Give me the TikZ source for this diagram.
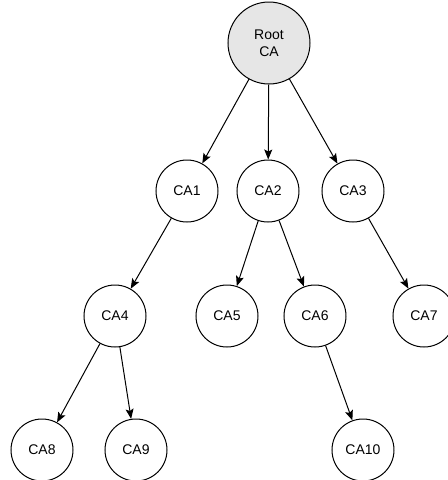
\documentclass[tikz,border=0pt]{standalone}
\usepackage{fontspec}
\setmainfont{Liberation Sans}
\usepackage{xcolor}
\usetikzlibrary{arrows.meta}
\definecolor{rootbg}{HTML}{E6E6E6}
\definecolor{ink}{HTML}{000000}
\tikzset{
  ca/.style={circle, draw=ink, fill=white, line width=0.75pt, minimum size=46.5pt, inner sep=0pt, font=\fontsize{10.5}{12.6}\selectfont},
  rootca/.style={ca, fill=rootbg, minimum size=61.5pt, align=center},
  link/.style={draw=ink, line width=0.75pt, -{Stealth[length=7.5pt, width=6pt, inset=1.5pt]}},
}

\begin{document}
\begin{tikzpicture}[x=0.75pt, y=-0.75pt]
  \useasboundingbox (0,0) rectangle (448,480);
  % root and first level
  \node[rootca] (root) at (269,43) {Root\\CA};
  \node[ca] (ca1) at (187,191) {CA1};
  \node[ca] (ca2) at (268,191) {CA2};
  \node[ca] (ca3) at (353,191) {CA3};
  % second level
  \node[ca] (ca4) at (115,316) {CA4};
  \node[ca] (ca5) at (227,316) {CA5};
  \node[ca] (ca6) at (315,316) {CA6};
  \node[ca] (ca7) at (424,316) {CA7};
  % third level
  \node[ca] (ca8) at (42,450) {CA8};
  \node[ca] (ca9) at (136,450) {CA9};
  \node[ca] (ca10) at (363,450) {CA10};
  % links
  \foreach \from/\to in {root/ca1, root/ca2, root/ca3, ca1/ca4, ca2/ca5, ca2/ca6,
                         ca3/ca7, ca4/ca8, ca4/ca9, ca6/ca10}
    \draw[link] (\from) -- (\to);
\end{tikzpicture}
\end{document}
